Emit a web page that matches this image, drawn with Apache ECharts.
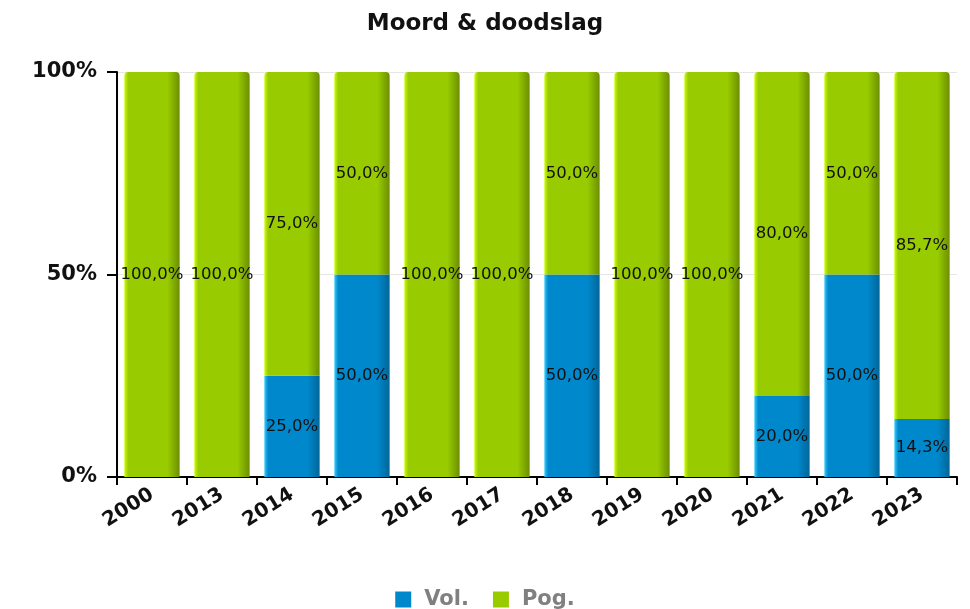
<!DOCTYPE html>
<html><head><meta charset="utf-8">
<script src="https://cdn.jsdelivr.net/npm/echarts@6/dist/echarts.min.js"></script>
<style>html,body{margin:0;padding:0;background:#fff}#c{width:970px;height:609px}</style>
</head><body><div id="c"></div>
<script>
const categories = ['2000','2013','2014','2015','2016','2017','2018','2019','2020','2021','2022','2023'];
const volValues = [0,0,25,50,0,0,50,0,0,20,50,14.3];
const pogValues = [100,100,75,50,100,100,50,100,100,80,50,85.7];
const yTicks = [0,50,100];

const chart = echarts.init(document.getElementById('c'));
function grad(a,b,c){
  return new echarts.graphic.LinearGradient(0,0,1,0,[
    {offset:0,color:a},{offset:0.07,color:b},{offset:0.78,color:b},{offset:1,color:c}]);
}
const fmt = p => p.value > 0 ? p.value.toFixed(1).replace('.', ',') + '%' : '';
const lbl = {show:true, position:'inside', formatter: fmt, color:'#111', fontFamily:'DejaVu Sans', fontSize:16.5};
chart.setOption({
  animation:false,
  title:{text:'Moord & doodslag', left:'center', top:8, textStyle:{fontFamily:'DejaVu Sans', fontWeight:'bold', fontSize:23, color:'#111'}},
  grid:{left:117, right:13, top:72, bottom:132},
  legend:{top:584, left:'center', itemWidth:16, itemHeight:16, itemGap:24, icon:'rect',
    textStyle:{fontFamily:'DejaVu Sans', fontWeight:'bold', fontSize:21, color:'#808080', padding:[0,0,0,8]},
    data:[{name:'Vol.', itemStyle:{color:'#0088cc'}},{name:'Pog.', itemStyle:{color:'#99cc00'}}]},
  xAxis:{type:'category', data:categories,
    axisLine:{lineStyle:{color:'#000', width:2}},
    axisTick:{show:true, length:8, lineStyle:{color:'#000', width:2}},
    axisLabel:{rotate:32, fontFamily:'DejaVu Sans', fontWeight:'bold', fontSize:20, color:'#111', margin:16}},
  yAxis:{type:'value', min:0, max:100, interval:50,
    axisLine:{show:true, lineStyle:{color:'#000', width:2}},
    axisTick:{show:true, length:10, lineStyle:{color:'#000', width:2}},
    splitLine:{lineStyle:{color:'#e6e6e6'}},
    axisLabel:{formatter: v => yTicks.includes(v) ? v + '%' : '', fontFamily:'DejaVu Sans', fontWeight:'bold', fontSize:21, color:'#111', margin:20}},
  series:[
    {name:'Vol.', type:'bar', stack:'s', data:volValues, barCategoryGap:'21%',
      itemStyle:{color:grad('#33ccff','#0088cc','#006699')}, label:lbl},
    {name:'Pog.', type:'bar', stack:'s', data:pogValues, barCategoryGap:'21%',
      itemStyle:{color:grad('#ccff00','#99cc00','#6b8f00'), borderRadius:[4,4,0,0]}, label:lbl}
  ]
});
</script></body></html>
